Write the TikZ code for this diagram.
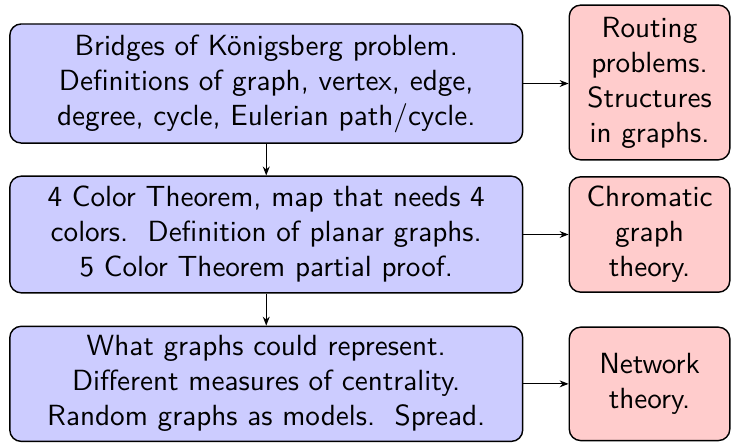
\documentclass[tikz,border=0pt]{standalone}
\usetikzlibrary{arrows.meta}
\renewcommand{\familydefault}{\sfdefault}
\definecolor{topicfill}{RGB}{204,204,255}
\definecolor{fieldfill}{RGB}{255,204,204}
\tikzset{
  card/.style={rectangle, rounded corners=4pt, align=center, draw=black, line width=0.5pt, inner sep=3.3pt,
    font=\fontsize{10.25pt}{12.3pt}\selectfont},
  topic/.style={card, fill=topicfill, text width=6.1cm},
  field/.style={card, fill=fieldfill, text width=1.75cm},
  flow/.style={-{Stealth[length=1.1mm,width=0.85mm]}, line width=0.4pt}
}
\def\xtopic{3.287}
\def\xfield{8.019}

\begin{document}
\begin{tikzpicture}
\useasboundingbox (0,0) rectangle (9.037,5.469);

% --- Lectures ---
\node[topic, minimum height=1.47cm] (bridges) at (\xtopic,4.438)
  {Bridges of Königsberg problem.\\Definitions of graph, vertex, edge,\\degree, cycle, Eulerian path/cycle.};
\node[topic, minimum height=1.44cm] (colors) at (\xtopic,2.574)
  {4 Color Theorem, map that needs 4\\colors.\ \ Definition of planar graphs.\\5 Color Theorem partial proof.};
\node[topic, minimum height=1.41cm] (networks) at (\xtopic,0.73)
  {What graphs could represent.\\Different measures of centrality.\\Random graphs as models.\ \ Spread.};

% --- Fields they lead to ---
\node[field, minimum height=1.91cm] (routing) at (\xfield,4.451)
  {Routing\\problems.\\Structures\\in graphs.};
\node[field, minimum height=1.41cm] (chromatic) at (\xfield,2.574)
  {Chromatic\\graph\\theory.};
\node[field, minimum height=1.40cm] (nettheory) at (\xfield,0.73)
  {Network\\theory.};

% --- Flow ---
\draw[flow] (bridges.south) -- (colors.north);
\draw[flow] (colors.south)  -- (networks.north);
\draw[flow] (bridges.east)  -- (routing.west |- bridges.east);
\draw[flow] (colors.east)   -- (chromatic.west);
\draw[flow] (networks.east) -- (nettheory.west);

\end{tikzpicture}
\end{document}
